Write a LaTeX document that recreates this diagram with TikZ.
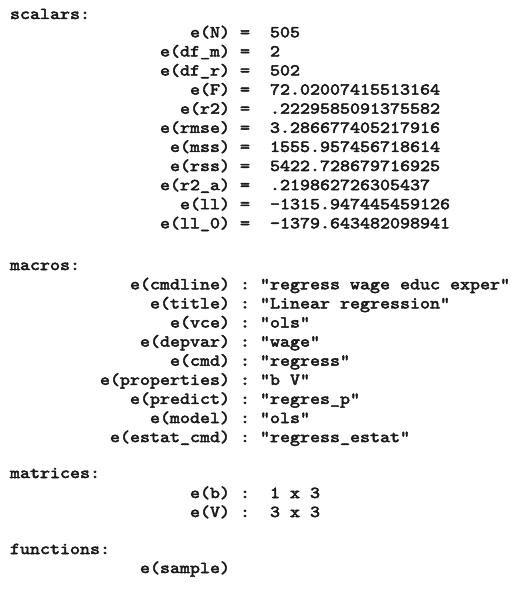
\documentclass[tikz,border=0pt]{standalone}
\usepackage{fontspec}
\newfontfamily\courfont{lmmono10-regular.otf}[FakeStretch=1.143, FakeBold=3]
\definecolor{txt}{HTML}{1A1A1A}
\newcommand{\erow}[6]{%
  \node[anchor=base east] (#1l) at (230,#2) {#3};
  \node[anchor=base] (#1s) at (245,#2) {#4};
  \node[anchor=base west] (#1v) at (#6,#2) {#5};}
\begin{document}
\begin{tikzpicture}[x=1pt,y=-1pt,
  every node/.style={inner sep=0pt, outer sep=0pt, text=txt,
    font=\courfont\fontsize{16.67}{19.1}\selectfont}]
\fill[white] (0,0) rectangle (526,596);
\useasboundingbox (0,0) rectangle (526,596);
% scalars
\node[anchor=base west] (hsc) at (10,19) {scalars:};
\erow{s1}{37.3}{e(N)}{=}{505}{270}
\erow{s2}{56.4}{e(df\_m)}{=}{2}{270}
\erow{s3}{75.5}{e(df\_r)}{=}{502}{270}
\erow{s4}{94.6}{e(F)}{=}{72.02007415513164}{270}
\erow{s5}{113.7}{e(r2)}{=}{.2229585091375582}{270}
\erow{s6}{132.8}{e(rmse)}{=}{3.286677405217916}{270}
\erow{s7}{151.9}{e(mss)}{=}{1555.957456718614}{270}
\erow{s8}{171.0}{e(rss)}{=}{5422.728679716925}{270}
\erow{s9}{190.1}{e(r2\_a)}{=}{.219862726305437}{270}
\erow{s10}{209.2}{e(ll)}{=}{-1315.947445459126}{270}
\erow{s11}{228.3}{e(ll\_0)}{=}{-1379.643482098941}{270}
% macros
\node[anchor=base west] (hma) at (10,270) {macros:};
\erow{m1}{289.3}{e(cmdline)}{:}{"regress wage educ exper"}{260}
\erow{m2}{308.4}{e(title)}{:}{"Linear regression"}{260}
\erow{m3}{327.5}{e(vce)}{:}{"ols"}{260}
\erow{m4}{346.6}{e(depvar)}{:}{"wage"}{260}
\erow{m5}{365.7}{e(cmd)}{:}{"regress"}{260}
\erow{m6}{384.8}{e(properties)}{:}{"b V"}{260}
\erow{m7}{403.9}{e(predict)}{:}{"regres\_p"}{260}
\erow{m8}{423.0}{e(model)}{:}{"ols"}{260}
\erow{m9}{442.1}{e(estat\_cmd)}{:}{"regress\_estat"}{260}
% matrices
\node[anchor=base west] (hmt) at (10,478) {matrices:};
\erow{x1}{498}{e(b)}{:}{1 x 3}{270}
\erow{x2}{517}{e(V)}{:}{3 x 3}{270}
% functions
\node[anchor=base west] (hfn) at (10,554) {functions:};
\node[anchor=base east] (f1l) at (230,573) {e(sample)};
\end{tikzpicture}
\end{document}
